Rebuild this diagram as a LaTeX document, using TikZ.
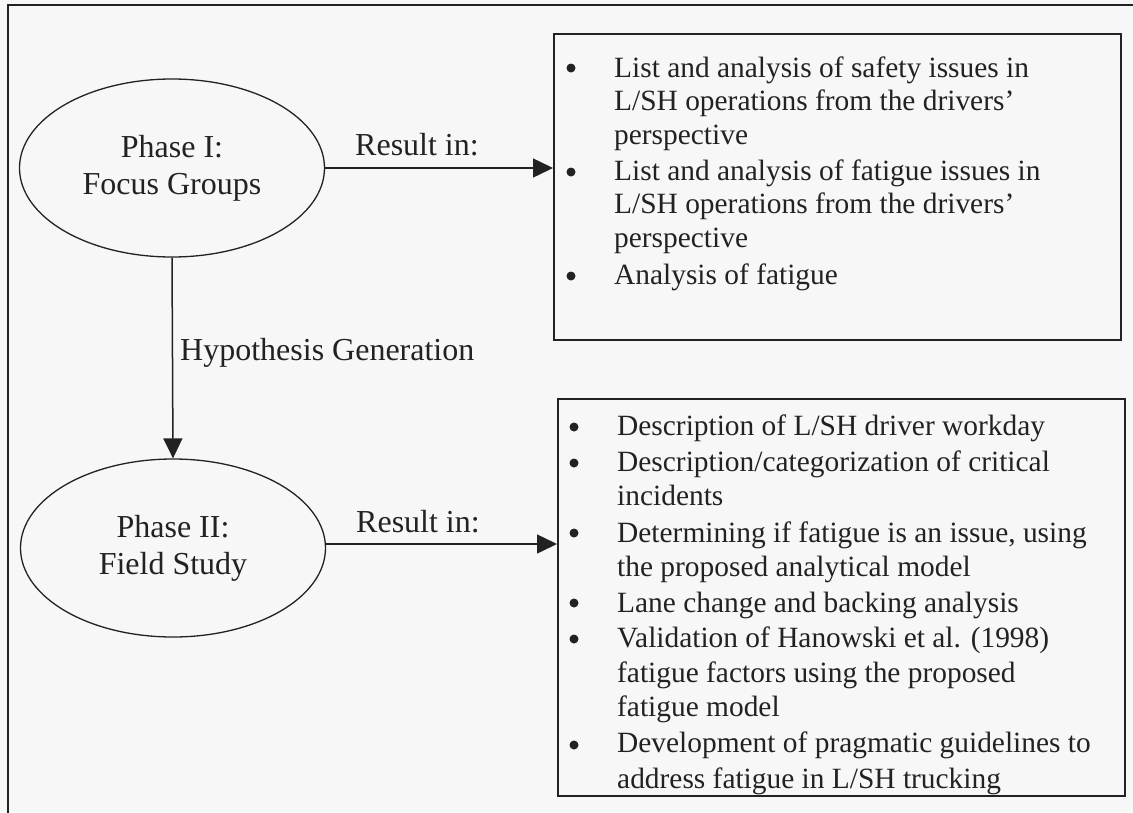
\documentclass[tikz,border=0pt]{standalone}
\usepackage{fontspec}
\setmainfont{Liberation Serif}
\usetikzlibrary{shapes.geometric,arrows.meta}
\definecolor{ink}{HTML}{222222}
\definecolor{bg}{HTML}{F7F7F7}
\tikzset{
  phase/.style={draw=ink, line width=1.3pt, ellipse, minimum width=305pt, minimum height=178pt,
    align=center, text=ink, font=\fontsize{32}{37}\selectfont, inner sep=0pt},
  outbox/.style={draw=ink, line width=2pt, rectangle, inner sep=0pt},
  lbl/.style={anchor=base west, text=ink, font=\fontsize{32}{37}\selectfont, inner sep=0pt},
  itm/.style={anchor=base west, text=ink, font=\fontsize{29.4}{35.3}\selectfont, inner sep=0pt},
  bul/.style={fill=ink, circle, inner sep=0pt, minimum size=9pt},
  arr/.style={draw=ink, line width=1.5pt, -{Triangle[length=20pt,width=19pt]}}
}
\begin{document}
\begin{tikzpicture}[x=1pt,y=-1pt]
\useasboundingbox (0,0) rectangle (1133,812);
\fill[bg] (0,0) rectangle (1133,812);
% outer frame (cut at right and bottom)
\draw[ink, line width=2pt] (8,830) -- (8,5) -- (1150,5);

% ellipses
\node[phase] (ph1) at (172,168) {Phase I:\\Focus Groups};
\node[phase] (ph2) at (173,548) {Phase II:\\Field Study};

% boxes
\node[outbox, minimum width=567pt, minimum height=306pt] (box1) at (837.5,187) {};
\node[outbox, minimum width=567pt, minimum height=397pt] (box2) at (841.5,597.5) {};

% connectors
\coordinate (a2) at ([yshift=4pt]ph2.east);
\draw[arr] (ph1.east) -- (box1.west |- ph1.east);
\draw[arr] (a2) -- (box2.west |- a2);
\draw[arr] (ph1.south) -- (ph2.north);

% labels
\node[lbl] (r1) at (355,155) {Result in:};
\node[lbl] (r2) at (356,532) {Result in:};
\node[lbl] (hg) at (180,360) {Hypothesis Generation};

% top box items
\node[bul] (b11) at (571,68) {};
\node[itm] (t11) at (614,77) {List and analysis of safety issues in};
\node[itm] (t12) at (614,110) {L/SH operations from the drivers’};
\node[itm] (t13) at (614,144) {perspective};
\node[bul] (b12) at (571,172) {};
\node[itm] (t14) at (614,180) {List and analysis of fatigue issues in};
\node[itm] (t15) at (614,213) {L/SH operations from the drivers’};
\node[itm] (t16) at (614,247) {perspective};
\node[bul] (b13) at (571,276) {};
\node[itm] (t17) at (614,284) {Analysis of fatigue};

% bottom box items
\node[bul] (b21) at (574,427) {};
\node[itm] (t21) at (617,435) {Description of L/SH driver workday};
\node[bul] (b22) at (574,463) {};
\node[itm] (t22) at (617,471) {Description/categorization of critical};
\node[itm] (t23) at (617,505) {incidents};
\node[bul] (b23) at (574,533) {};
\node[itm] (t24) at (617,542) {Determining if fatigue is an issue, using};
\node[itm] (t25) at (617,576) {the proposed analytical model};
\node[bul] (b24) at (574,603) {};
\node[itm] (t26) at (617,612) {Lane change and backing analysis};
\node[bul] (b25) at (574,639) {};
\node[itm] (t27) at (617,647) {Validation of Hanowski et al. (1998)};
\node[itm] (t28) at (617,682) {fatigue factors using the proposed};
\node[itm] (t29) at (617,716) {fatigue model};
\node[bul] (b26) at (574,745) {};
\node[itm] (t2a) at (617,752) {Development of pragmatic guidelines to};
\node[itm] (t2b) at (617,788) {address fatigue in L/SH trucking};
\end{tikzpicture}
\end{document}
